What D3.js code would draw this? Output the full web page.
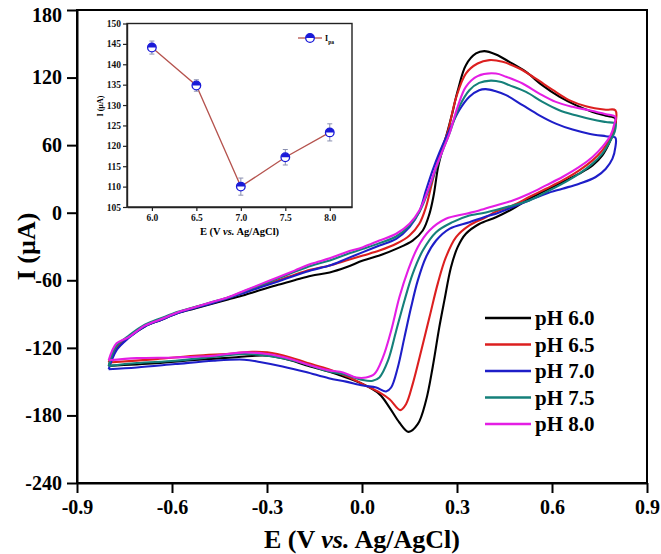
<!DOCTYPE html>
<html><head><meta charset="utf-8">
<script src="https://cdn.jsdelivr.net/npm/d3@7"></script>
<style>body{margin:0;background:#fff}svg{display:block}</style>
</head><body><svg id="c" width="661" height="554"></svg>
<script>
// ---------- DATA ----------
const seriesLabels = ["pH 6.0", "pH 6.5", "pH 7.0", "pH 7.5", "pH 8.0"];
const seriesColors = ["#000000", "#dc1f1f", "#1e1ec8", "#15807a", "#e41ee4"];

// CV loops: [E (V), I (µA)], forward scan then reverse scan
const cv_pH60 = [
 [-0.800,-136],[-0.775,-121],[-0.738,-111],[-0.686,-101],[-0.633,-95],[-0.581,-89],[-0.528,-85],[-0.476,-81],
 [-0.423,-77],[-0.370,-73],[-0.318,-68.5],[-0.265,-64],[-0.213,-60],[-0.160,-56],[-0.102,-53],[-0.050,-48.4],
 [0.003,-42.5],[0.055,-38],[0.108,-32.1],[0.160,-24.7],[0.192,-15.8],[0.213,-1],[0.226,15],[0.240,40],
 [0.253,55],[0.268,70],[0.283,86],[0.302,108],[0.328,131],[0.360,141.4],[0.386,143.5],[0.423,140.5],
 [0.465,134],[0.518,125],[0.570,113],[0.623,103],[0.675,95.5],[0.728,89.5],[0.770,86],[0.800,83.6],
 [0.797,74],[0.780,61.4],[0.759,51],[0.728,42],[0.686,34.7],[0.633,27.2],[0.581,19.8],[0.528,12.4],
 [0.476,3.5],[0.423,-4],[0.370,-10],[0.328,-18.7],[0.302,-30.6],[0.281,-48.4],[0.260,-78.1],[0.244,-101.8],
 [0.223,-137.4],[0.202,-167],[0.176,-187.8],[0.147,-194.6],[0.118,-186.3],[0.087,-173],[0.055,-161.1],
 [0.003,-152.2],[-0.050,-146.3],[-0.105,-141],[-0.177,-135.5],[-0.226,-131],[-0.299,-127],[-0.347,-127.2],
 [-0.408,-128.5],[-0.529,-130.8],[-0.650,-133.7],[-0.800,-136]
];
const cv_pH65 = [
 [-0.800,-133],[-0.775,-119],[-0.738,-110.5],[-0.686,-100.5],[-0.633,-94.5],[-0.581,-88.5],[-0.528,-84],[-0.476,-80],
 [-0.423,-75.5],[-0.370,-70.5],[-0.318,-65],[-0.265,-60],[-0.213,-55],[-0.160,-50.5],[-0.102,-46.9],[-0.050,-42.5],
 [0.003,-38],[0.055,-33.6],[0.108,-27.6],[0.150,-20.2],[0.181,-9.8],[0.202,5],[0.218,22.8],[0.234,40.6],
 [0.250,55.4],[0.271,72],[0.297,102],[0.328,123.6],[0.365,132.5],[0.402,135.5],[0.444,134],[0.497,128],
 [0.549,119],[0.602,109],[0.654,100],[0.707,94.6],[0.770,91.5],[0.800,91],
 [0.798,76],[0.780,64.3],[0.759,55.4],[0.728,46.5],[0.686,37.6],[0.633,28.7],[0.581,21.3],[0.528,13.9],
 [0.476,6.5],[0.423,1],[0.391,-4],[0.339,-11.3],[0.297,-21.7],[0.265,-39.5],[0.239,-63.2],[0.213,-92.9],
 [0.187,-122.5],[0.160,-152.2],[0.139,-170],[0.121,-175.3],[0.087,-165.6],[0.055,-159.6],[0.003,-152.2],
 [-0.050,-145],[-0.105,-139],[-0.177,-133],[-0.226,-128.5],[-0.299,-124],[-0.347,-123.5],[-0.408,-125],
 [-0.529,-127],[-0.650,-130],[-0.800,-133]
];
const cv_pH70 = [
 [-0.800,-139],[-0.775,-122],[-0.738,-111.5],[-0.686,-101],[-0.633,-95],[-0.581,-89],[-0.528,-84.5],[-0.476,-80.5],
 [-0.423,-76],[-0.370,-71],[-0.318,-66],[-0.265,-61],[-0.213,-56],[-0.160,-51],[-0.102,-46.9],[-0.050,-41],
 [0.003,-35],[0.055,-29.1],[0.108,-23.2],[0.150,-12.8],[0.181,1],[0.202,19.8],[0.223,37.6],[0.244,53],
 [0.276,73.2],[0.307,91],[0.339,103],[0.370,108.8],[0.391,109.7],[0.420,108],[0.455,104.4],[0.507,95.5],
 [0.560,86.5],[0.612,79.1],[0.665,73.8],[0.717,70.2],[0.770,67.9],[0.800,66.7],
 [0.800,58],[0.791,48],[0.770,39.1],[0.738,31.7],[0.686,25.8],[0.633,21.3],[0.581,16.9],[0.528,10.9],
 [0.476,5],[0.423,-0.9],[0.402,-2.4],[0.339,-8.4],[0.276,-14.3],[0.234,-24.7],[0.202,-39.5],[0.176,-60.3],
 [0.155,-84],[0.134,-110.7],[0.113,-137.4],[0.092,-155.2],[0.076,-158.7],[0.045,-155.2],[0.003,-153.5],
 [-0.050,-150],[-0.105,-147],[-0.177,-141.5],[-0.251,-136.5],[-0.323,-132.5],[-0.372,-130.5],[-0.469,-131.4],
 [-0.590,-134.4],[-0.711,-137.4],[-0.800,-139]
];
const cv_pH75 = [
 [-0.800,-136],[-0.775,-118],[-0.738,-109.5],[-0.686,-99.5],[-0.633,-93.5],[-0.581,-88],[-0.528,-83.8],[-0.476,-79.5],
 [-0.423,-75.3],[-0.370,-69.5],[-0.318,-64],[-0.265,-58.3],[-0.213,-52.5],[-0.160,-47],[-0.102,-42.5],[-0.050,-37.1],
 [0.003,-32.1],[0.055,-27],[0.108,-21.1],[0.150,-11.3],[0.181,0.5],[0.208,18.3],[0.234,39.1],[0.255,55.4],
 [0.276,70.2],[0.307,94],[0.339,108.8],[0.370,115.3],[0.407,117.3],[0.440,116],[0.465,113.3],[0.518,107.3],
 [0.570,98.4],[0.623,91],[0.675,86.5],[0.728,82.7],[0.770,80.5],[0.800,79.1],
 [0.798,72],[0.785,64.3],[0.759,52.5],[0.728,43.6],[0.686,34.7],[0.633,25.8],[0.581,18.3],[0.528,10.9],
 [0.476,6.5],[0.423,2.5],[0.370,-1],[0.339,-2.4],[0.286,-8.4],[0.234,-17.3],[0.192,-33.6],[0.160,-54.3],
 [0.134,-78.1],[0.108,-104.8],[0.082,-131.4],[0.055,-146.3],[0.034,-149.2],[0.003,-148.6],[-0.050,-144],
 [-0.105,-141],[-0.177,-134.5],[-0.226,-130.8],[-0.299,-127],[-0.372,-125.5],[-0.469,-128],[-0.590,-131.4],
 [-0.711,-133.5],[-0.800,-136]
];
const cv_pH80 = [
 [-0.800,-131],[-0.775,-116],[-0.738,-110.7],[-0.686,-100.3],[-0.633,-94.4],[-0.581,-88.4],[-0.528,-84],[-0.476,-79.5],
 [-0.423,-75.1],[-0.370,-69.1],[-0.318,-63.2],[-0.265,-57.3],[-0.213,-51.4],[-0.160,-45.4],[-0.102,-40.5],[-0.050,-35],
 [0.003,-30.6],[0.055,-24.7],[0.108,-18.7],[0.150,-9.8],[0.181,2],[0.208,19.8],[0.234,40.6],[0.255,55.4],
 [0.276,70.2],[0.302,94],[0.328,111.8],[0.365,121.3],[0.423,123.6],[0.455,120.7],[0.507,114.7],[0.560,105.8],
 [0.612,98.4],[0.665,94],[0.717,91],[0.770,87.5],[0.800,85.1],
 [0.797,79],[0.785,68.8],[0.759,58.4],[0.728,49.5],[0.686,40.6],[0.633,31.7],[0.581,24.3],[0.528,16.9],
 [0.476,10.9],[0.423,6.5],[0.370,2],[0.329,-0.9],[0.265,-5.4],[0.213,-15.8],[0.176,-30.6],[0.145,-51.4],
 [0.118,-75.1],[0.092,-104.8],[0.066,-128.5],[0.039,-143.3],[0.013,-146.3],[-0.018,-146.3],[-0.060,-141.8],
 [-0.105,-140],[-0.177,-134.4],[-0.226,-129.9],[-0.299,-125.5],[-0.372,-124],[-0.469,-127],[-0.590,-128.5],
 [-0.711,-129.1],[-0.800,-131]
];
const xTickValues = [-0.9, -0.6, -0.3, 0.0, 0.3, 0.6, 0.9];
const yTickValues = [-240, -180, -120, -60, 0, 60, 120, 180];

// Inset: anodic peak current vs pH
const insetPH = [6.0, 6.5, 7.0, 7.5, 8.0];
const insetIpa = [144.1, 134.8, 110.0, 117.2, 123.3];
const insetErr = [1.0, 0.8, 1.5, 1.3, 1.5];
const insetXTicks = [6.0, 6.5, 7.0, 7.5, 8.0];
const insetYTicks = [105, 110, 115, 120, 125, 130, 135, 140, 145, 150];

// ---------- DRAW ----------
const allSeries = [cv_pH60, cv_pH65, cv_pH70, cv_pH75, cv_pH80];
const FONT = "'Liberation Serif','Times New Roman',serif";
const svg = d3.select("#c");
const L = 77, R = 647, T = 10, B = 483;
const x = d3.scaleLinear().domain([-0.9, 0.9]).range([L, R]);
const y = d3.scaleLinear().domain([-240, 180]).range([B, T]);

const line = d3.line().x(d => x(d[0])).y(d => y(d[1])).curve(d3.curveCatmullRom.alpha(0.5));
svg.append("g").selectAll("path").data(allSeries).join("path")
  .attr("d", line).attr("fill", "none")
  .attr("stroke", (d, i) => seriesColors[i]).attr("stroke-width", 2.1)
  .attr("stroke-linejoin", "round");

// frame
svg.append("rect").attr("x", L).attr("y", T).attr("width", R - L).attr("height", B - T)
  .attr("fill", "none").attr("stroke", "#000").attr("stroke-width", 2);

// axes
const xAxis = svg.append("g").attr("transform", `translate(0,${B})`)
  .call(d3.axisBottom(x).tickValues(xTickValues).tickSize(10).tickSizeOuter(0).tickPadding(7)
        .tickFormat(d3.format(".1f")));
const yAxis = svg.append("g").attr("transform", `translate(${L},0)`)
  .call(d3.axisLeft(y).tickValues(yTickValues).tickSize(10).tickSizeOuter(0).tickPadding(5)
        .tickFormat(d => d3.format("d")(d)));
[xAxis, yAxis].forEach(g => {
  g.select(".domain").attr("stroke-width", 2);
  g.selectAll(".tick line").attr("stroke-width", 2);
  g.selectAll(".tick text").attr("font-family", FONT).attr("font-weight", "bold")
    .attr("font-size", 20).attr("fill", "#000");
});
xAxis.selectAll(".tick text").text(d => d3.format(".1f")(d).replace("−", "-"));
yAxis.selectAll(".tick text").text(d => String(d));
// keep the top label inside the picture
yAxis.selectAll(".tick text").filter(d => d === 180).attr("dy", "0.55em");

// axis titles
const xt = svg.append("text").attr("x", (L + R) / 2).attr("y", 548).attr("text-anchor", "middle")
  .attr("font-family", FONT).attr("font-weight", "bold").attr("font-size", 26);
xt.append("tspan").text("E (V ");
xt.append("tspan").attr("font-style", "italic").text("vs.");
xt.append("tspan").text(" Ag/AgCl)");
svg.append("text").attr("transform", `translate(35,${(T + B) / 2}) rotate(-90)`)
  .attr("text-anchor", "middle").attr("font-family", FONT).attr("font-weight", "bold")
  .attr("font-size", 26).text("I (µA)");

// legend
const lg = svg.append("g");
seriesLabels.forEach((lab, i) => {
  const yy = 318 + i * 26.5;
  lg.append("line").attr("x1", 485).attr("x2", 531).attr("y1", yy).attr("y2", yy)
    .attr("stroke", seriesColors[i]).attr("stroke-width", 2.3);
  lg.append("text").attr("x", 535).attr("y", yy + 7).attr("font-family", FONT)
    .attr("font-weight", "bold").attr("font-size", 21).text(lab);
});

// ---------- INSET ----------
const iL = 127, iR = 352, iT = 23.5, iB = 207;
const ix = d3.scaleLinear().domain([5.72, 8.25]).range([iL, iR]);
const iy = d3.scaleLinear().domain([105, 150]).range([iB, iT]);
const ins = svg.append("g");
ins.append("rect").attr("x", iL).attr("y", iT).attr("width", iR - iL).attr("height", iB - iT)
  .attr("fill", "#fff").attr("stroke", "#222").attr("stroke-width", 1.4);
const ixa = ins.append("g").attr("transform", `translate(0,${iB})`)
  .call(d3.axisBottom(ix).tickValues(insetXTicks).tickSize(4).tickSizeOuter(0).tickPadding(3)
        .tickFormat(d3.format(".1f")));
const iya = ins.append("g").attr("transform", `translate(${iL},0)`)
  .call(d3.axisLeft(iy).tickValues(insetYTicks).tickSize(4).tickSizeOuter(0).tickPadding(2));
[ixa, iya].forEach(g => {
  g.select(".domain").attr("stroke", "#222").attr("stroke-width", 1.4);
  g.selectAll(".tick line").attr("stroke", "#222").attr("stroke-width", 1.2);
  g.selectAll(".tick text").attr("font-family", FONT).attr("font-weight", "bold")
    .attr("font-size", 9.5).attr("fill", "#111");
});
const ixt = ins.append("text").attr("x", (iL + iR) / 2).attr("y", 235).attr("text-anchor", "middle")
  .attr("font-family", FONT).attr("font-weight", "bold").attr("font-size", 10.5);
ixt.append("tspan").text("E (V ");
ixt.append("tspan").attr("font-style", "italic").text("vs.");
ixt.append("tspan").text(" Ag/AgCl)");
ins.append("text").attr("transform", `translate(103,106) rotate(-90)`)
  .attr("text-anchor", "middle").attr("font-family", FONT).attr("font-weight", "bold")
  .attr("font-size", 8).text("I (µA)");

const insetPts = insetPH.map((p, i) => [p, insetIpa[i], insetErr[i]]);
ins.append("path").datum(insetPts)
  .attr("d", d3.line().x(d => ix(d[0])).y(d => iy(d[1])))
  .attr("fill", "none").attr("stroke", "#b5534e").attr("stroke-width", 1.3);
// error bars
const eb = ins.append("g").attr("stroke", "#8a8fb0").attr("stroke-width", 1);
insetPts.forEach(d => {
  eb.append("line").attr("x1", ix(d[0])).attr("x2", ix(d[0])).attr("y1", iy(d[1] - d[2] - 0.6)).attr("y2", iy(d[1] + d[2] + 0.6));
  [d[1] - d[2] - 0.6, d[1] + d[2] + 0.6].forEach(v =>
    eb.append("line").attr("x1", ix(d[0]) - 2.5).attr("x2", ix(d[0]) + 2.5).attr("y1", iy(v)).attr("y2", iy(v)));
});
function marker(g, cx, cy) {
  const r = 4.3;
  g.append("circle").attr("cx", cx).attr("cy", cy).attr("r", r).attr("fill", "#fff")
    .attr("stroke", "#1a1ad8").attr("stroke-width", 1.3);
  g.append("path").attr("d", `M${cx - r},${cy} A${r},${r} 0 0 1 ${cx + r},${cy} Z`).attr("fill", "#1a1ad8");
}
insetPts.forEach(d => marker(ins, ix(d[0]), iy(d[1])));
// inset legend
ins.append("line").attr("x1", 298).attr("x2", 322).attr("y1", 38).attr("y2", 38)
  .attr("stroke", "#b5534e").attr("stroke-width", 1.3);
marker(ins, 310, 38);
const lt = ins.append("text").attr("x", 325).attr("y", 41).attr("font-family", FONT)
  .attr("font-weight", "bold").attr("font-size", 8);
lt.append("tspan").text("I");
lt.append("tspan").attr("font-size", 5.5).attr("dy", 2.5).text("pa");
</script></body></html>
